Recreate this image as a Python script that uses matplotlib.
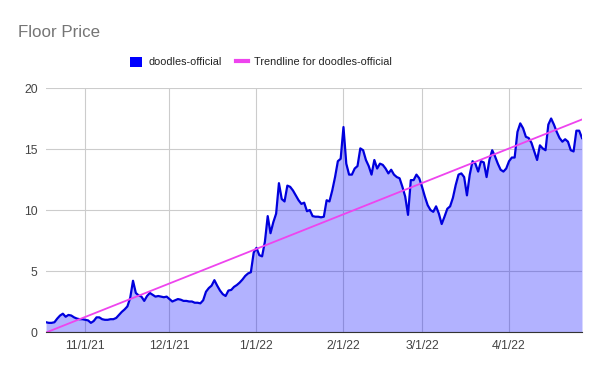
import numpy as np
import pandas as pd
import matplotlib
matplotlib.use("Agg")
import matplotlib.pyplot as plt
import matplotlib.dates as mdates
from matplotlib.patches import Patch
from matplotlib.lines import Line2D

plt.rcParams["font.family"] = ["Liberation Sans", "DejaVu Sans"]

# daily floor price (Oct 18 2021 -> Apr 27 2022)
start_date = "2021-10-18"
floor_price = [
    0.8, 0.75, 0.75, 0.8, 1.1, 1.35, 1.5, 1.25, 1.4, 1.35,
    1.2, 1.1, 1.05, 1.05, 1.0, 0.95, 0.75, 0.9, 1.2, 1.2,
    1.05, 1.0, 1.0, 1.05, 1.05, 1.15, 1.4, 1.65, 1.85, 2.1,
    2.8, 4.2, 3.2, 3.0, 2.9, 2.55, 2.95, 3.2, 3.05, 2.9,
    2.95, 2.9, 2.85, 2.9, 2.7, 2.5, 2.6, 2.7, 2.65, 2.55,
    2.55, 2.5, 2.5, 2.4, 2.4, 2.35, 2.6, 3.3, 3.6, 3.8,
    4.25, 3.8, 3.4, 3.1, 2.95, 3.4, 3.45, 3.7, 3.85, 4.05,
    4.3, 4.6, 4.8, 4.9, 6.5, 6.9, 6.3, 6.2, 7.4, 9.5,
    8.1, 9.0, 9.7, 12.2, 10.9, 10.7, 12.0, 11.9, 11.6, 11.2,
    10.8, 10.5, 10.6, 9.9, 10.0, 9.5, 9.45, 9.45, 9.4, 9.45,
    10.8, 10.7, 11.6, 12.7, 14.0, 14.2, 16.8, 13.8, 12.9, 12.9,
    13.4, 13.6, 15.05, 14.9, 14.1, 13.6, 12.9, 14.1, 13.4, 13.8,
    13.7, 13.4, 13.0, 13.3, 12.9, 12.7, 12.6, 11.9, 11.1, 9.6,
    12.45, 12.45, 12.9, 12.6, 11.9, 11.1, 10.4, 10.0, 9.85, 10.3,
    9.7, 8.85, 9.45, 10.1, 10.3, 11.0, 12.05, 12.9, 13.0, 12.7,
    11.2, 12.9, 14.0, 13.8, 13.15, 14.0, 13.9, 12.7, 14.1, 14.9,
    14.4, 13.8, 13.3, 13.15, 13.4, 14.0, 14.3, 14.3, 16.4, 17.1,
    16.7, 16.0, 15.9, 15.5, 14.8, 14.1, 15.3, 15.05, 14.9, 17.0,
    17.5, 17.0, 16.4, 15.9, 15.6, 15.8, 15.6, 14.9, 14.8, 16.5,
    16.5, 15.9,
]
dates = pd.date_range(start_date, periods=len(floor_price), freq="D")
y_ticks = [0, 5, 10, 15, 20]
x_ticks = ["2021-11-01", "2021-12-01", "2022-01-01", "2022-02-01", "2022-03-01", "2022-04-01"]

# linear trendline (least squares on day index)
days = np.arange(len(floor_price))
slope, intercept = np.polyfit(days, floor_price, 1)
trend = intercept + slope * days

fig = plt.figure(figsize=(6, 3.71), dpi=100)
ax = fig.add_axes([0.0767, 0.1051, 0.8933, 0.6577])

ax.fill_between(dates, floor_price, 0, color="#0000ff", alpha=0.3, linewidth=0, zorder=2)
ax.plot(dates, floor_price, color="#0000dd", linewidth=1.6, zorder=3)
ax.plot(dates, trend, color="#ee44ee", linewidth=1.3, zorder=4)

ax.set_xlim(dates[0], dates[-1])
ax.set_ylim(0, 20)
ax.set_yticks(y_ticks)
ax.set_xticks(pd.to_datetime(x_ticks))
ax.xaxis.set_major_formatter(mdates.DateFormatter("%-m/%-d/%y"))
ax.grid(True, color="#cccccc", linewidth=0.8, zorder=1)
ax.set_axisbelow(True)
for s in ["top", "right", "left"]:
    ax.spines[s].set_visible(False)
ax.spines["bottom"].set_color("#333333")
ax.spines["bottom"].set_zorder(5)
ax.tick_params(length=0, labelsize=8.8, labelcolor="#444444")
ax.tick_params(axis="y", pad=6)
ax.tick_params(axis="x", pad=6)

fig.text(0.03, 0.913, "Floor Price", fontsize=12.2, color="#757575", va="center")

handles = [Patch(facecolor="#0000ff", edgecolor="none"),
           Line2D([0], [0], color="#ee44ee", linewidth=3)]
fig.legend(handles, ["doodles-official", "Trendline for doodles-official"],
           loc="center", bbox_to_anchor=(0.435, 0.833), ncol=2, frameon=False,
           fontsize=7.8, handlelength=1.1, handleheight=1.1, columnspacing=1.3,
           handletextpad=0.6, labelcolor="#222222")

fig.savefig("out.png", dpi=100)
